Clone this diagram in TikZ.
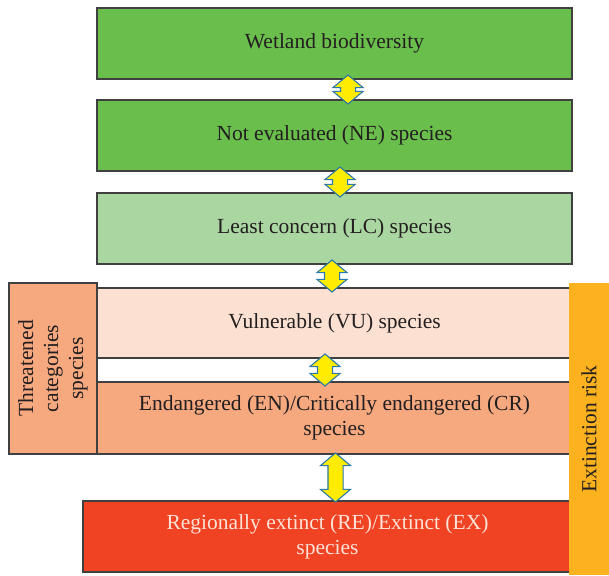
\documentclass[tikz,border=0pt]{standalone}
\usepackage{fontspec}
\setmainfont{Liberation Serif}
\usetikzlibrary{shapes.arrows,calc}

\definecolor{wetgreen}{RGB}{106,190,75}
\definecolor{lcgreen}{RGB}{170,214,161}
\definecolor{vupeach}{RGB}{252,224,209}
\definecolor{ensalmon}{RGB}{246,168,127}
\definecolor{rered}{RGB}{239,67,36}
\definecolor{riskorange}{RGB}{251,178,30}
\definecolor{edgegray}{RGB}{64,64,64}
\definecolor{textdark}{RGB}{35,31,32}
\definecolor{textlight}{RGB}{252,226,214}
\definecolor{arrowyellow}{RGB}{255,236,0}
\definecolor{arrowblue}{RGB}{40,120,170}

\begin{document}
\begin{tikzpicture}[x=1pt,y=1pt,
    box/.style={shape=rectangle,draw=edgegray,line width=1.5pt,minimum width=475pt,minimum height=71pt,outer sep=0pt,align=center,text=textdark,font=\fontsize{21.5}{25}\selectfont},
    updown/.style={shape=double arrow,rotate=90,draw=arrowblue,fill=arrowyellow,line width=1.1pt,inner xsep=0pt,inner ysep=7pt,double arrow head extend=7.5pt,double arrow tip angle=100}]
    \useasboundingbox (0,0) rectangle (609,575);
    % side box and the levels
    \node[box,fill=ensalmon,rotate=90,minimum width=171pt,minimum height=88pt] (threat) at (53,206.5) {Threatened\\categories\\species};
    \node[box,fill=wetgreen] (wet) at (334.5,531.5) {Wetland biodiversity};
    \node[box,fill=wetgreen] (ne) at (334.5,439.5) {Not evaluated (NE) species};
    \node[box,fill=lcgreen] (lc) at (334.5,346.5) {Least concern (LC) species};
    \node[box,fill=vupeach,minimum height=70pt] (vu) at (334.5,252) {Vulnerable (VU) species};
    \node[box,fill=ensalmon,minimum height=72pt] (en) at (334.5,157) {Endangered (EN)/Critically endangered (CR)\\species};
    \node[box,fill=rered,text=textlight,minimum width=489pt] (re) at (327.5,38.5) {Regionally extinct (RE)/Extinct (EX)\\species};
    \node[shape=rectangle,fill=riskorange,rotate=90,minimum width=292pt,minimum height=40pt,outer sep=0pt,text=textdark,font=\fontsize{21.5}{25}\selectfont] (risk) at (589,146) {Extinction risk};
    % double arrows between levels
    \path let \p1=(wet.south), \p2=(ne.north) in node[updown,minimum height=\y1-\y2+8] at ($(\p1)!.5!(\p2)+(13.5,0)$) {};
    \path let \p1=(ne.south), \p2=(lc.north) in node[updown,minimum height=\y1-\y2+8] at ($(\p1)!.5!(\p2)+(5.5,0)$) {};
    \path let \p1=(lc.south), \p2=(vu.north) in node[updown,minimum height=\y1-\y2+8] at ($(\p1)!.5!(\p2)+(-2.5,0)$) {};
    \path let \p1=(vu.south), \p2=(en.north) in node[updown,minimum height=\y1-\y2+8] at ($(\p1)!.5!(\p2)+(-9.5,0)$) {};
    \path let \p1=(en.south), \p2=(re.north) in node[updown,minimum height=\y1-\y2+2] at ($(\p1)!.5!(\p2)+(4.5,0)$) {};
\end{tikzpicture}
\end{document}
